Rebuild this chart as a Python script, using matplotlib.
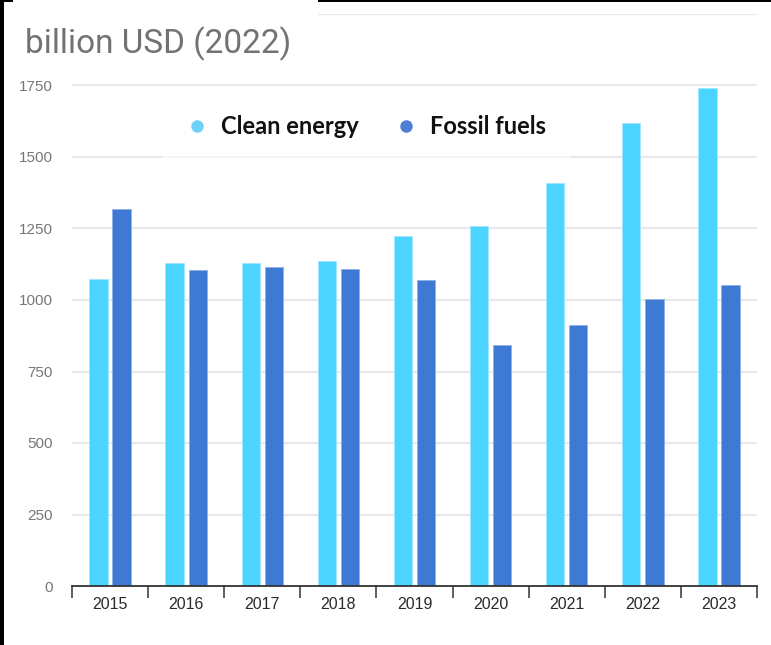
import matplotlib
matplotlib.use("Agg")
import matplotlib.pyplot as plt
from matplotlib.lines import Line2D
from matplotlib.patches import Rectangle
import numpy as np

years = ["2015", "2016", "2017", "2018", "2019", "2020", "2021", "2022", "2023"]
clean_energy = [1072, 1131, 1128, 1136, 1224, 1260, 1409, 1620, 1741]
fossil_fuels = [1318, 1106, 1114, 1109, 1069, 841, 914, 1002, 1051]
series_names = ["Clean energy", "Fossil fuels"]
y_ticks = [0, 250, 500, 750, 1000, 1250, 1500, 1750]
unit_label = "billion USD (2022)"

CLEAN = "#4ad4ff"
FOSSIL = "#3e79d3"
CLEAN_DOT = "#6fd1f8"
FOSSIL_DOT = "#4f7fd4"

W, H = 771, 645
fig = plt.figure(figsize=(W / 100, H / 100), dpi=100)
fig.patch.set_facecolor("white")

ax = fig.add_axes([72 / W, 59 / H, (757 - 72) / W, 572 / H])
x = np.arange(len(years))
bw = 0.24
off = 0.152
ax.bar(x - off, clean_energy, bw, color=CLEAN, edgecolor="#9fe6ff", linewidth=0.6, zorder=3)
ax.bar(x + off, fossil_fuels, bw, color=FOSSIL, edgecolor="#8fb0e6", linewidth=0.6, zorder=3)

ax.set_xlim(-0.5, len(years) - 0.5)
ax.set_ylim(0, 2000)

# horizontal grid, including the unlabelled top line
for v in y_ticks[1:] + [2000]:
    ax.axhline(v, color="#e8e8e8", linewidth=1.5, zorder=1)

ax.set_yticks(y_ticks)
ax.set_yticklabels([str(v) for v in y_ticks], fontsize=11, color="#777777",
                   family="Liberation Sans")
ax.tick_params(axis="y", length=0, pad=14)

ax.set_xticks(x)
ax.set_xticklabels(years, fontsize=11.5, color="#2a2a2a", family="Liberation Sans")
ax.tick_params(axis="x", which="major", length=0, pad=8)
ax.set_xticks(np.arange(len(years) + 1) - 0.5, minor=True)
ax.tick_params(axis="x", which="minor", length=8.6, width=1.1, color="#333333",
               direction="out")

for s in ["top", "right", "left"]:
    ax.spines[s].set_visible(False)
ax.spines["bottom"].set_color("#333333")
ax.spines["bottom"].set_linewidth(1.3)
ax.spines["bottom"].set_zorder(4)

handles = [
    Line2D([], [], linestyle="none", marker="o", markersize=9, color=CLEAN_DOT,
           markeredgewidth=0),
    Line2D([], [], linestyle="none", marker="o", markersize=9, color=FOSSIL_DOT,
           markeredgewidth=0),
]
leg = ax.legend(handles, series_names, ncol=2, loc="center left",
                bbox_to_anchor=(150 / W, 1 - 127 / H), bbox_transform=fig.transFigure,
                frameon=True, facecolor="white", edgecolor="none", framealpha=0.6,
                fancybox=False, handlelength=1.0, handletextpad=0.52,
                columnspacing=1.49, borderpad=1.0,
                prop={"family": "Lato", "weight": "bold", "size": 17})
for t in leg.get_texts():
    t.set_color("#111111")
leg.set_zorder(5)

# white header band behind the unit label
fig.add_artist(Rectangle((0, 1 - 78 / H), 318 / W, 78 / H, transform=fig.transFigure,
                         facecolor="white", edgecolor="none", zorder=2))
fig.text(25 / W, 1 - 44 / H, unit_label, fontsize=24, color="#727272",
         family="Roboto", va="center", ha="left", zorder=3)

# dark frame edges
fig.add_artist(Rectangle((0, 0), 4 / W, 1, transform=fig.transFigure,
                         facecolor="black", edgecolor="none", zorder=6))
fig.add_artist(Rectangle((318 / W, 1 - 2 / H), 1 - 318 / W, 2 / H,
                         transform=fig.transFigure, facecolor="black",
                         edgecolor="none", zorder=6))
fig.add_artist(Rectangle((0, 1 - 2 / H), 13 / W, 2 / H, transform=fig.transFigure,
                         facecolor="black", edgecolor="none", zorder=6))

fig.savefig("out.png", dpi=100, facecolor="white")
